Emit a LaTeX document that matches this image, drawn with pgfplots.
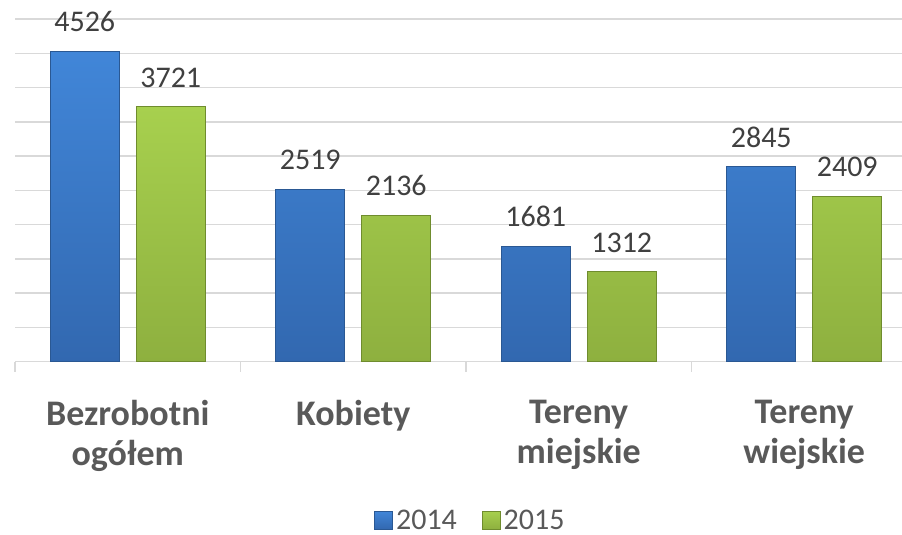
\documentclass[border=0pt]{standalone}
\usepackage{fontspec}
\setmainfont{Carlito}
\usepackage{pgfplots}
\pgfplotsset{compat=1.18}
\definecolor{gridc}{HTML}{D9D9D9}
\definecolor{labc}{HTML}{595959}
\definecolor{datc}{HTML}{404040}
\definecolor{bluetop}{HTML}{4186D8}
\definecolor{bluebot}{HTML}{3268B0}
\definecolor{blueedge}{HTML}{2A5893}
\definecolor{greentop}{HTML}{A7D04E}
\definecolor{greenbot}{HTML}{8EB03F}
\definecolor{greenedge}{HTML}{6F8C2E}
\begin{document}
\begin{tikzpicture}
\useasboundingbox (0,0) rectangle (902pt,535pt);
\begin{axis}[
  at={(15pt,173.3pt)}, anchor=south west,
  scale only axis,
  width=887pt, height=342.7pt,
  xmin=-0.5, xmax=3.4335,
  ymin=0, ymax=5000,
  clip=false,
  axis x line*=bottom,
  axis y line*=left,
  y axis line style={draw=none},
  x axis line style={gridc, line width=1.5pt, -},
  ytick={0,500,...,5000},
  yticklabels={},
  major y tick style={draw=none},
  ymajorgrids,
  grid style={gridc, line width=1.5pt},
  xtick={0,1,2,3},
  xticklabels={{Bezrobotni\\ogółem},{Kobiety},{Tereny\\miejskie},{Tereny\\wiejskie}},
  major x tick style={draw=none},
  minor xtick={-0.5,0.5,1.5,2.5,3.5},
  minor x tick style={gridc, line width=1.5pt},
  minor tick length=10pt,
  tick align=outside,
  xticklabel style={align=center, anchor=north, inner sep=0pt, yshift=-34pt,
    font=\fontsize{36}{40}\selectfont\bfseries, text=labc},
  ybar, bar width=69pt,
  nodes near coords={\pgfmathprintnumber[1000 sep={},assume math mode=true]{\pgfplotspointmeta}},
  nodes near coords style={anchor=south, inner sep=0pt, yshift=19pt,
    font=\fontsize{30}{36}\selectfont, text=datc},
  legend style={at={(0.514,-0.462)}, anchor=center, draw=none, fill=none,
    font=\fontsize{30}{36}\selectfont, text=labc,
    legend columns=2,
    /tikz/every even column/.append style={column sep=22pt},
    nodes={inner sep=3pt}},
  legend image code/.code={\draw[#1,line width=0.8pt] (0pt,-9pt) rectangle (18pt,9pt);},
]
\addplot[bar shift=-43pt, top color=bluetop, bottom color=bluebot, draw=blueedge, line width=0.8pt]
  coordinates {(0,4526) (1,2519) (2,1681) (3,2845)};
\addplot[bar shift=43pt, top color=greentop, bottom color=greenbot, draw=greenedge, line width=0.8pt]
  coordinates {(0,3721) (1,2136) (2,1312) (3,2409)};
\legend{2014,2015}
\end{axis}
\end{tikzpicture}
\end{document}
